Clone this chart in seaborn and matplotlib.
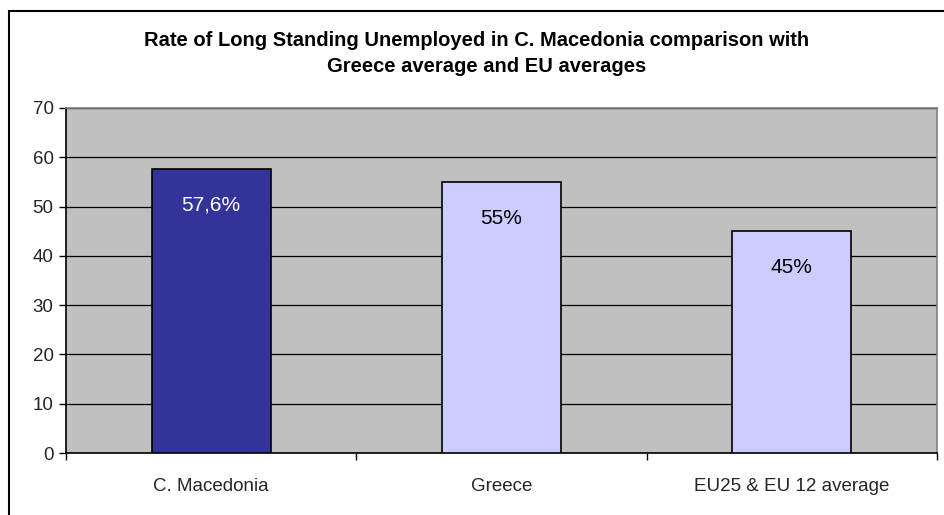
import matplotlib
matplotlib.use("Agg")
import matplotlib.pyplot as plt
import seaborn as sns
import pandas as pd
from matplotlib.patches import Rectangle
from matplotlib.ticker import FixedLocator

# Data
regions = ["C. Macedonia", "Greece", "EU25 & EU 12 average"]
rates = [57.6, 55, 45]
rate_labels = ["57,6%", "55%", "45%"]
bar_colors = ["#333399", "#CCCCFF", "#CCCCFF"]
label_colors = ["white", "black", "black"]
y_ticks = [0, 10, 20, 30, 40, 50, 60, 70]

title_lines = ["Rate of Long Standing Unemployed in C. Macedonia comparison with",
               "Greece average and EU averages"]

sns.set_theme(style="white")
plt.rcParams["font.family"] = ["Liberation Sans", "DejaVu Sans"]

df = pd.DataFrame({"region": regions, "rate": rates})

fig = plt.figure(figsize=(9.44, 5.15), dpi=100)
ax = fig.add_axes([66 / 944, 1 - 453 / 515, (937 - 66) / 944, (453 - 108) / 515])
ax.set_facecolor("#C0C0C0")

sns.barplot(data=df, x="region", y="rate", hue="region", palette=bar_colors,
            order=regions, hue_order=regions, legend=False, width=0.41,
            edgecolor="black", linewidth=1.2, saturation=1, ax=ax, zorder=3)

ax.set_ylim(0, 70)
ax.set_xlim(-0.5, len(regions) - 0.5)
ax.set_yticks(y_ticks)
ax.yaxis.grid(True, color="black", linewidth=0.9, zorder=0)
ax.set_axisbelow(True)
ax.set_xlabel("")
ax.set_ylabel("")

ax.tick_params(axis="y", labelsize=13.5, length=5, width=1, color="black",
               direction="out", pad=4, left=True)
ax.tick_params(axis="x", which="major", labelsize=13.5, length=0, pad=18)
ax.xaxis.set_minor_locator(FixedLocator([i - 0.5 for i in range(len(regions) + 1)]))
ax.tick_params(axis="x", which="minor", length=5, width=1, color="black",
               direction="out", bottom=True)

for side in ["top", "right"]:
    ax.spines[side].set_color("#808080")
    ax.spines[side].set_linewidth(1.2)
for side in ["left", "bottom"]:
    ax.spines[side].set_color("black")
    ax.spines[side].set_linewidth(1.2)

# Value labels inside the top of each bar
for i, (val, txt, col) in enumerate(zip(rates, rate_labels, label_colors)):
    ax.annotate(txt, xy=(i, val), xytext=(0, -26), textcoords="offset points",
                ha="center", va="center", fontsize=15, color=col, zorder=5)

# Two-line bold title
fig.text(477 / 944, 1 - 46 / 515, title_lines[0], ha="center", va="baseline",
         fontsize=14.5, fontweight="bold", color="black")
fig.text(487 / 944, 1 - 72 / 515, title_lines[1], ha="center", va="baseline",
         fontsize=14.5, fontweight="bold", color="black")

# Chart frame
fig.patches.append(Rectangle((9 / 944, -0.2), 1.5, 1.2 - 11 / 515,
                             transform=fig.transFigure, fill=False,
                             edgecolor="black", linewidth=1.5, zorder=10))

fig.savefig("out.png", dpi=100, facecolor="white")
